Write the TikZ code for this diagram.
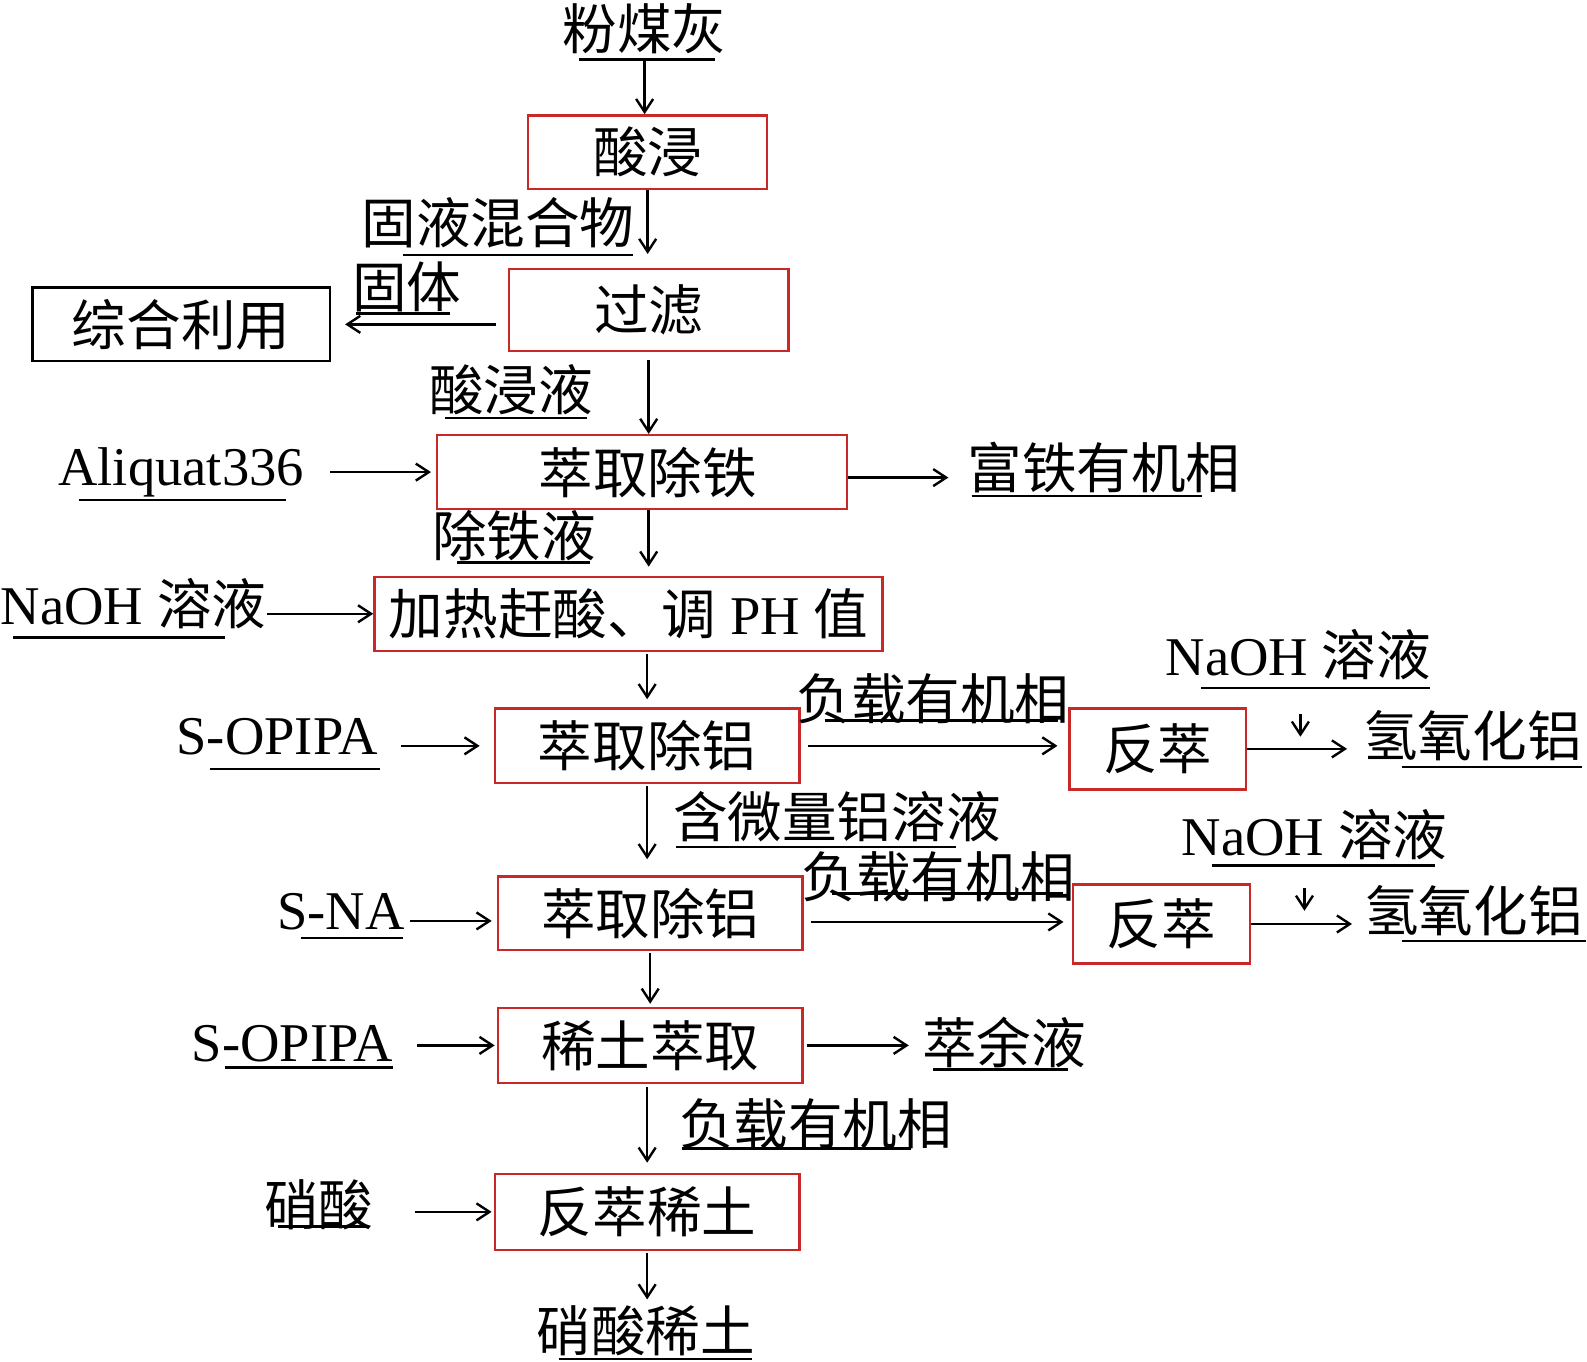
\documentclass[tikz,border=0pt]{standalone}
\usepackage{fontspec}
\setmainfont{Liberation Serif}
\newfontfamily\cjk{Noto Sans CJK SC}
\usetikzlibrary{arrows.meta}
\definecolor{boxred}{RGB}{200,40,40}
\begin{document}
\begin{tikzpicture}[x=1.012pt,y=-1.012pt,
  font=\fontsize{54.6pt}{60pt}\selectfont,
  line width=2.4pt,
  arr/.style={-{Straight Barb[length=13pt,width=17pt,line width=2.4pt]}},
  pb/.style 2 args={draw=boxred, line width=2.4pt, inner sep=0pt,
    minimum width={1.012*#1pt}, minimum height={1.012*#2pt}},
  kb/.style 2 args={draw=black, line width=2.4pt, inner sep=0pt,
    minimum width={1.012*#1pt}, minimum height={1.012*#2pt}},
  lb/.style={inner sep=0pt},
  ul/.style={line width=2.6pt}
]
\useasboundingbox (0,0) rectangle (1568.2,1344.9);

% boxes
\node[pb={236}{73}] (sj) at (640,150.5) {\cjk 酸浸};
\node[pb={276}{81}] (gl) at (641,306.5) {\cjk 过滤};
\node[kb={294}{73}] (zh) at (179,320.5) {\cjk 综合利用};
\node[pb={405}{73}] (cf) at (634.5,466.5) {\hspace*{11pt}{\cjk 萃取除铁}};
\node[pb={502}{73}] (jr) at (621,606.5) {{\cjk 加热赶酸、调} PH {\cjk 值}};
\node[pb={301}{74}] (cl1) at (639.5,737) {\cjk 萃取除铝};
\node[pb={174}{80}] (fc1) at (1144,740) {\cjk 反萃};
\node[pb={301}{73}] (cl2) at (642.5,902.5) {\cjk 萃取除铝};
\node[pb={175}{78}] (fc2) at (1147.5,913) {\cjk 反萃};
\node[pb={301}{74}] (xt) at (642.5,1033) {\cjk 稀土萃取};
\node[pb={301}{75}] (fx) at (639.5,1197.5) {\cjk 反萃稀土};

% labels
\node[lb] (fmh) at (637,28) {\cjk 粉煤灰};
\node[lb] (gyh) at (492,220) {\cjk 固液混合物};
\node[lb] (gt) at (402,283) {\cjk 固体};
\node[lb] (sjy) at (505,385) {\cjk 酸浸液};
\node[lb, anchor=base] (ali) at (179,480) {Aliquat336};
\node[lb] (ft) at (1091,462) {\cjk 富铁有机相};
\node[lb] (ctye) at (508,529) {\cjk 除铁液};
\node[lb, anchor=base] (naoh1) at (132,617) {NaOH {\cjk 溶液}};
\node[lb, anchor=base] (sop1) at (274,746) {S-OPIPA};
\node[lb] (fz1) at (922,690) {\cjk 负载有机相};
\node[lb, anchor=base] (naoh2) at (1283,667) {NaOH {\cjk 溶液}};
\node[lb] (hy1) at (1455,727) {\cjk 氢氧化铝};
\node[lb] (hwl) at (827,807) {\cjk 含微量铝溶液};
\node[lb, anchor=base] (sna) at (337,918) {S-NA};
\node[lb] (fz2) at (927,866) {\cjk 负载有机相};
\node[lb, anchor=base] (naoh3) at (1299,845) {NaOH {\cjk 溶液}};
\node[lb] (hy2) at (1456,900) {\cjk 氢氧化铝};
\node[lb, anchor=base] (sop2) at (289,1049) {S-OPIPA};
\node[lb] (yy) at (992,1030) {\cjk 萃余液};
\node[lb] (fz3) at (806,1110) {\cjk 负载有机相};
\node[lb] (xs) at (315,1190) {\cjk 硝酸};
\node[lb] (xsxt) at (638,1315) {\cjk 硝酸稀土};

% underlines
\draw[ul] (572,59) -- (707,59);
\draw[ul] (398,252) -- (625,252);
\draw[ul] (352,310) -- (445,310);
\draw[ul] (440,413) -- (580,413);
\draw[ul] (78,494) -- (283,494);
\draw[ul] (960,490) -- (1188,490);
\draw[ul] (452,556) -- (583,556);
\draw[ul] (13,630) -- (222,630);
\draw[ul] (208,760) -- (375,760);
\draw[ul] (815,712) -- (1045,712);
\draw[ul] (1187,680) -- (1413,680);
\draw[ul] (1385,758) -- (1563,758);
\draw[ul] (668,837) -- (945,837);
\draw[ul] (297,927) -- (398,927);
\draw[ul] (822,883) -- (1050,883);
\draw[ul] (1198,855) -- (1418,855);
\draw[ul] (1385,930) -- (1567,930);
\draw[ul] (222,1055) -- (388,1055);
\draw[ul] (922,1057) -- (1055,1057);
\draw[ul] (674,1135) -- (900,1135);
\draw[ul] (275,1212) -- (365,1212);
\draw[ul] (552,1343) -- (743,1343);

% connectors
\coordinate (a1) at (637,60);
\draw[arr] (a1) -- (a1 |- sj.north);
\draw[arr, shorten >=14pt] (sj.south) -- (sj.south |- gl.north);
\draw[arr, shorten <=12pt, shorten >=14pt] (gl.west |- zh.east) -- (zh.east);
\draw[arr, shorten <=8pt] (gl.south) -- (gl.south |- cf.north);
\draw[arr, shorten <=25pt, shorten >=5pt] (ali.east |- cf.west) -- (cf.west);
\coordinate (c6) at ([yshift=-5.5pt]cf.east);
\draw[arr, shorten >=18pt] (c6) -- (c6 -| ft.west);
\draw[arr, shorten >=9pt] (gl.south |- cf.south) -- (gl.south |- jr.north);
\draw[arr] (naoh1.east |- jr.west) -- (jr.west);
\draw[arr, shorten <=2pt, shorten >=8pt] (jr.south -| cl1.north) -- (cl1.north);
\draw[arr, shorten <=22pt, shorten >=14pt] (sop1.east |- cl1.west) -- (cl1.west);
\draw[arr, shorten <=7pt, shorten >=11pt] (cl1.east) -- (cl1.east -| fc1.west);
\coordinate (s1) at (1285,706);
\coordinate (s1b) at (1285,728);
\draw[arr] (s1) -- (s1b);
\draw[arr, shorten >=15pt] (fc1.east) -- (fc1.east -| hy1.west);
\draw[arr, shorten <=2pt, shorten >=16pt] (cl1.south) -- (cl1.south |- cl2.north);
\coordinate (c15) at (405,910);
\draw[arr, shorten >=5pt] (c15) -- (c15 -| cl2.west);
\coordinate (c16) at (801,911);
\draw[arr, shorten >=8pt] (c16) -- (c16 -| fc2.west);
\coordinate (s2) at (1289,877);
\coordinate (s2b) at (1289,900);
\draw[arr] (s2) -- (s2b);
\draw[arr, shorten >=11pt] (fc2.east) -- (fc2.east -| hy2.west);
\draw[arr, shorten <=2pt, shorten >=3pt] (cl2.south -| xt.north) -- (xt.north);
\draw[arr, shorten <=23pt, shorten >=2pt] (sop2.east |- xt.west) -- (xt.west);
\draw[arr, shorten <=3pt, shorten >=12pt] (xt.east) -- (xt.east -| yy.west);
\draw[arr, shorten <=3pt, shorten >=10pt] (xt.south -| fx.north) -- (fx.north);
\draw[arr, shorten <=40pt, shorten >=2pt] (xs.east |- fx.west) -- (fx.west);
\draw[arr, shorten <=2pt, shorten >=5pt] (fx.south) -- (fx.south |- xsxt.north);
\end{tikzpicture}
\end{document}
